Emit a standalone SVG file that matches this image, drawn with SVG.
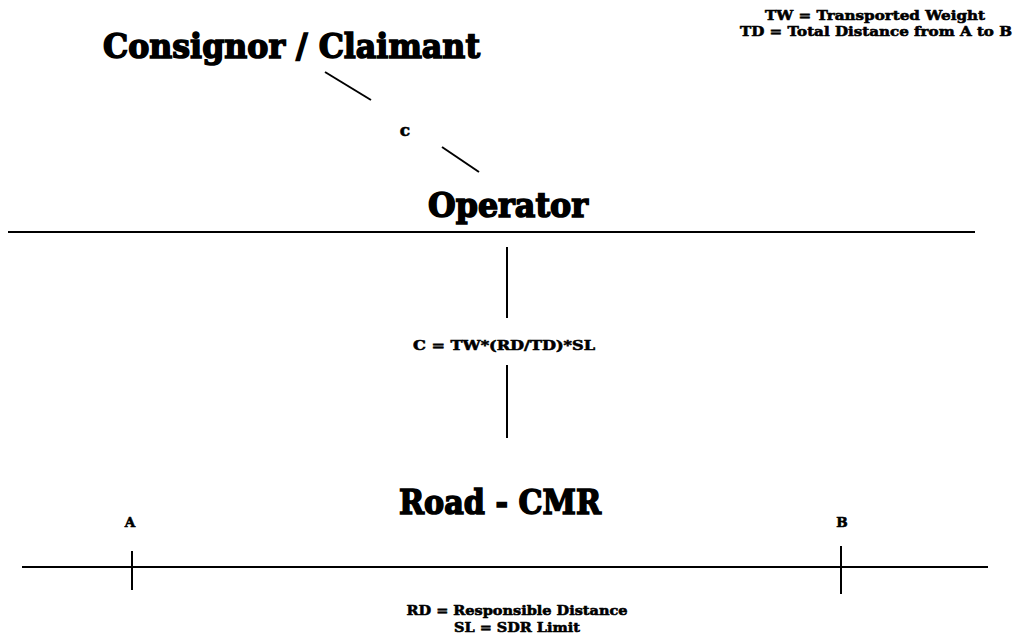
<svg xmlns="http://www.w3.org/2000/svg" width="1015" height="641" viewBox="0 0 1015 641">
<style>
text{font-family:"DejaVu Serif","Liberation Serif",serif;font-weight:bold;fill:#000;stroke:#000}
.big{font-size:34px;stroke-width:1.6}
.sm{font-size:13.5px;stroke-width:0.6}
.ln{stroke:#000;stroke-width:2;fill:none}
</style>
<rect width="1015" height="641" fill="#fff"/>
<g id="legend-top">
<text class="sm" x="875" y="20" text-anchor="middle" textLength="220" lengthAdjust="spacingAndGlyphs">TW = Transported Weight</text>
<text class="sm" x="876" y="36" text-anchor="middle" textLength="272" lengthAdjust="spacingAndGlyphs">TD = Total Distance from A to B</text>
</g>
<g id="consignor">
<text class="big" x="103" y="58" textLength="377" lengthAdjust="spacingAndGlyphs">Consignor / Claimant</text>
</g>
<g id="operator">
<text class="big" x="428" y="217" textLength="160" lengthAdjust="spacingAndGlyphs">Operator</text>
</g>
<g id="road">
<text class="big" x="399" y="514" textLength="202" lengthAdjust="spacingAndGlyphs">Road - CMR</text>
</g>
<g id="connectors">
<line class="ln" x1="325" y1="72" x2="371" y2="100"/>
<line class="ln" x1="442" y1="147" x2="479" y2="172"/>
<line class="ln" x1="8" y1="232" x2="975" y2="232"/>
<line class="ln" x1="507" y1="247" x2="507" y2="318"/>
<line class="ln" x1="507" y1="365" x2="507" y2="438"/>
<line class="ln" x1="22" y1="567" x2="988" y2="567"/>
<line class="ln" x1="132" y1="551" x2="132" y2="590"/>
<line class="ln" x1="841" y1="546" x2="841" y2="594"/>
</g>
<g id="labels">
<text class="sm" x="405" y="136" text-anchor="middle" style="font-size:17px">c</text>
<text class="sm" x="504" y="350" text-anchor="middle" textLength="182" lengthAdjust="spacingAndGlyphs">C = TW*(RD/TD)*SL</text>
<text class="sm" x="130" y="527" text-anchor="middle">A</text>
<text class="sm" x="842" y="527" text-anchor="middle">B</text>
<text class="sm" x="517" y="615" text-anchor="middle" textLength="221" lengthAdjust="spacingAndGlyphs">RD = Responsible Distance</text>
<text class="sm" x="517" y="632" text-anchor="middle" textLength="126" lengthAdjust="spacingAndGlyphs">SL = SDR Limit</text>
</g>
</svg>
